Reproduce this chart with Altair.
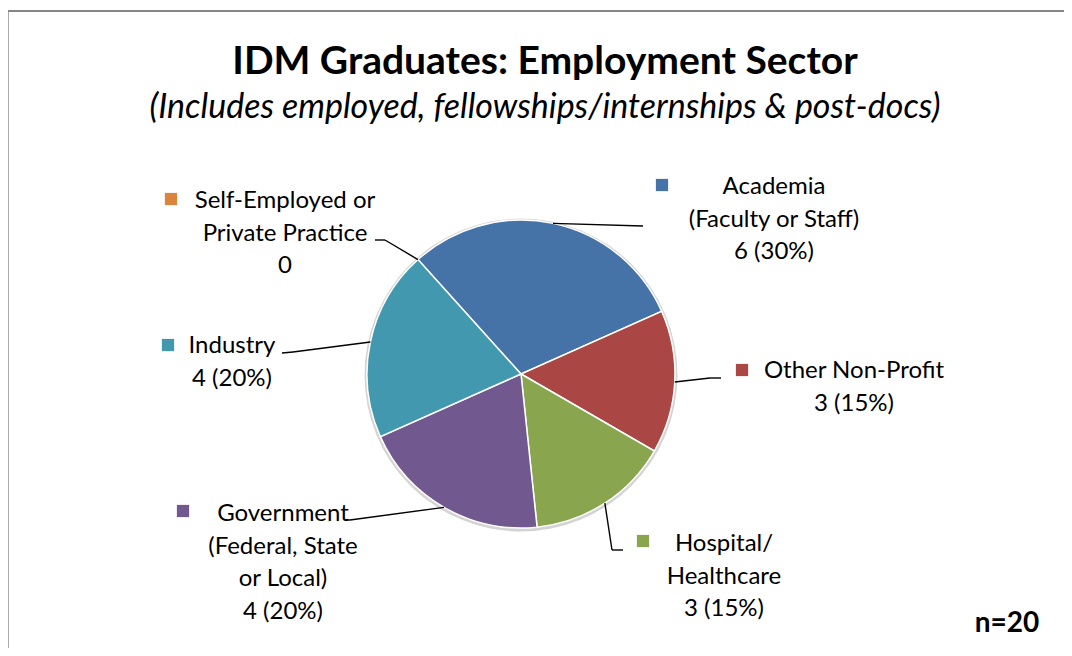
import math
import altair as alt
import pandas as pd

# ---------------- data ----------------
categories = [
    "Self-Employed or Private Practice",
    "Academia (Faculty or Staff)",
    "Other Non-Profit",
    "Hospital/Healthcare",
    "Government (Federal, State or Local)",
    "Industry",
]
label_lines = [
    ["Self-Employed or", "Private Practice"],
    ["Academia", "(Faculty or Staff)"],
    ["Other Non-Profit"],
    ["Hospital/", "Healthcare"],
    ["Government", "(Federal, State", "or Local)"],
    ["Industry"],
]
counts = [0, 6, 3, 3, 4, 4]
colors = ["#DB843D", "#4572A7", "#AA4643", "#89A54E", "#71588F", "#4198AF"]
title_text = "IDM Graduates: Employment Sector"
subtitle_text = "(Includes employed, fellowships/internships & post-docs)"
n_text = "n=20"

# ---------------- layout (page pixels) ----------------
PAD_L, PAD_T = 4, 4
OX, OY = 8 + PAD_L, 8 + PAD_T          # chart origin on the page
W, H = 1072 - 16 - PAD_L, 656 - 16 - PAD_T
CX, CY, R = 521, 374, 154
START_DEG = 318.0
FONT = "Lato"
LABEL_SIZE = 24
LINE_H = 32.5

# first-line centre x, first-line baseline y, marker x, marker y
label_layout = {
    categories[0]: dict(tx=285, ty=208, mx=171, my=199),
    categories[1]: dict(tx=774, ty=194, mx=662, my=185),
    categories[2]: dict(tx=854, ty=378, mx=742, my=370),
    categories[3]: dict(tx=724, ty=551, mx=643, my=541),
    categories[4]: dict(tx=283, ty=521, mx=183, my=511),
    categories[5]: dict(tx=232, ty=353, mx=168, my=345),
}
# leader elbow and end points (page px)
leader_layout = {
    categories[0]: dict(ex=385, ey=240, lx=375, ly=240),
    categories[1]: dict(ex=643, ey=226, lx=643, ly=226),
    categories[2]: dict(ex=710, ey=378, lx=721, ly=378),
    categories[3]: dict(ex=612, ey=550, lx=623, ly=550),
    categories[4]: dict(ex=350, ey=520, lx=346, ly=520),
    categories[5]: dict(ex=293, ey=352, lx=282, ly=353),
}

total = sum(counts)

# ---------------- tables ----------------
pie_df = pd.DataFrame({"category": categories, "count": counts, "order": list(range(len(categories)))})

rows_lbl, rows_rule = [], []
cum = 0
for cat, lines, v in zip(categories, label_lines, counts):
    mid = math.radians(START_DEG + 360.0 * (cum + v / 2.0) / total)
    cum += v
    rx = CX + R * math.sin(mid)
    ry = CY - R * math.cos(mid)
    pct = round(100 * v / total)
    val_line = f"{v} ({pct}%)" if v else f"{v}"
    L = label_layout[cat]
    rows_lbl.append(dict(category=cat, text="\n".join(lines + [val_line]),
                         tx=L["tx"] - OX, ty=L["ty"] - OY, mx=L["mx"] - OX, my=L["my"] - OY))
    K = leader_layout[cat]
    rows_rule.append(dict(x=rx - OX, y=ry - OY, x2=K["ex"] - OX, y2=K["ey"] - OY))
    rows_rule.append(dict(x=K["ex"] - OX, y=K["ey"] - OY, x2=K["lx"] - OX, y2=K["ly"] - OY))
lbl_df = pd.DataFrame(rows_lbl)
rule_df = pd.DataFrame(rows_rule)

color_scale = alt.Scale(domain=categories, range=colors)
a0 = math.radians(START_DEG)

shadow = alt.Chart(pd.DataFrame({"v": [1]})).mark_arc(
    outerRadius=R + 2.5, color="#d4d4d4", theta=0, theta2=2 * math.pi
).encode(x=alt.value(CX - OX), y=alt.value(CY - OY + 1))

pie = alt.Chart(pie_df).mark_arc(outerRadius=R, stroke="white", strokeWidth=1.5).encode(
    theta=alt.Theta("count:Q", stack=True, scale=alt.Scale(range=[a0, a0 + 2 * math.pi])),
    color=alt.Color("category:N", scale=color_scale, legend=None),
    order=alt.Order("order:Q"),
    x=alt.value(CX - OX),
    y=alt.value(CY - OY),
)

leaders = alt.Chart(rule_df).mark_rule(color="black", strokeWidth=1.4).encode(
    x=alt.X("x:Q", scale=None), y=alt.Y("y:Q", scale=None),
    x2="x2:Q", y2="y2:Q",
)

labels = alt.Chart(lbl_df).mark_text(
    align="center", baseline="alphabetic", lineBreak="\n", lineHeight=LINE_H,
    font=FONT, fontSize=LABEL_SIZE, color="black",
).encode(x=alt.X("tx:Q", scale=None), y=alt.Y("ty:Q", scale=None), text="text:N")

markers = alt.Chart(lbl_df).mark_square(size=150, opacity=1).encode(
    x=alt.X("mx:Q", scale=None), y=alt.Y("my:Q", scale=None),
    color=alt.Color("category:N", scale=color_scale, legend=None),
)

def text_layer(t, x, y, size, weight="normal", style="normal"):
    return alt.Chart(pd.DataFrame({"t": [t]})).mark_text(
        align="center", baseline="alphabetic", font=FONT, fontSize=size,
        fontWeight=weight, fontStyle=style, color="black",
    ).encode(text="t:N", x=alt.value(x - OX), y=alt.value(y - OY))

title = text_layer(title_text, 545, 74, 39, weight="bold")
subtitle = text_layer(subtitle_text, 545, 118, 34, style="italic")
nlab = text_layer(n_text, 1007, 632, 28, weight="bold")

border = alt.Chart(pd.DataFrame({"v": [1]})).mark_rule(color="#868686", strokeWidth=2).encode(
    x=alt.value(7.7 - OX), x2=alt.value(1080 - OX), y=alt.value(11 - OY), y2=alt.value(11 - OY)
) + alt.Chart(pd.DataFrame({"v": [1]})).mark_rule(color="#868686", strokeWidth=2).encode(
    x=alt.value(7.7 - OX), x2=alt.value(7.7 - OX), y=alt.value(11 - OY), y2=alt.value(700 - OY)
)

chart = alt.layer(border, shadow, pie, leaders, labels, markers, title, subtitle, nlab).properties(
    width=W, height=H, autosize="none",
    padding={"left": PAD_L, "top": PAD_T, "right": 0, "bottom": 0},
).configure_view(stroke=None)

chart.save("out.html", embed_options={"renderer": "svg", "actions": False})
